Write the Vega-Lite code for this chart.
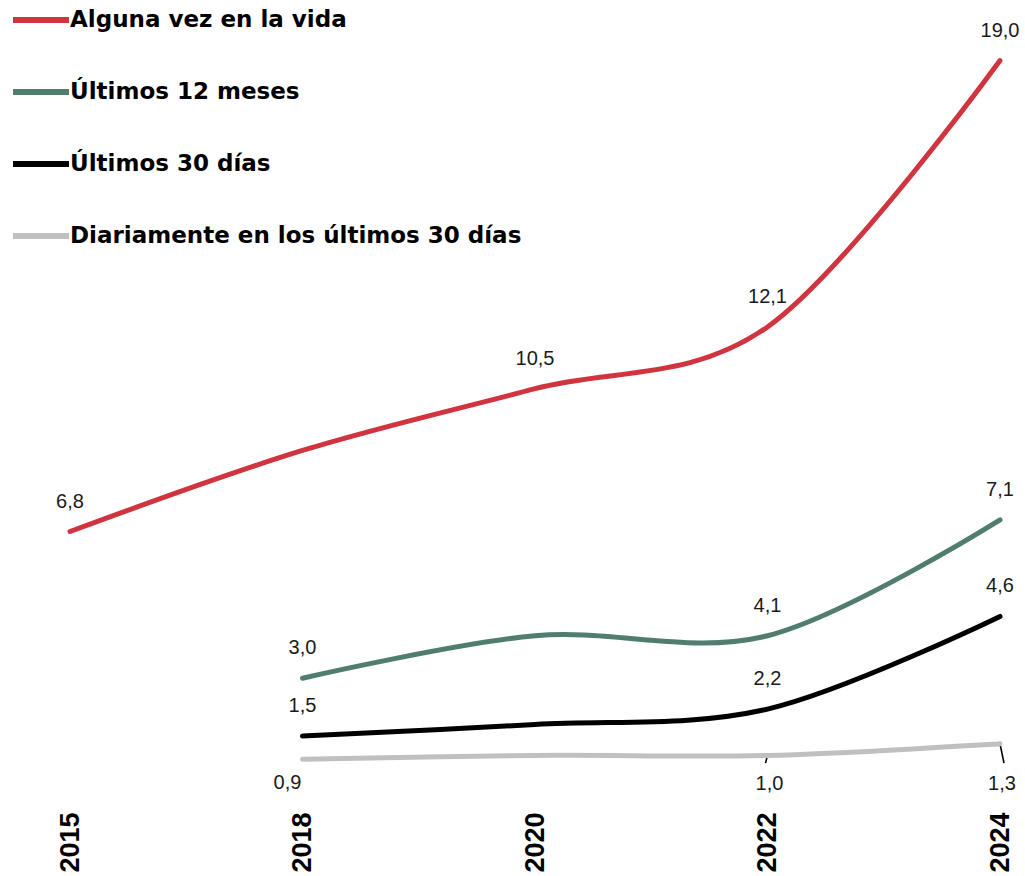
{
  "$schema": "https://vega.github.io/schema/vega-lite/v6.json",
  "width": 930,
  "height": 772,
  "autosize": {"type": "none"},
  "padding": {"left": 70, "top": 22, "right": 25, "bottom": 82},
  "background": "white",
  "config": {
    "view": {"stroke": null},
    "locale": {"number": {"decimal": ",", "thousands": ".", "grouping": [3], "currency": ["", " €"]}}
  },
  "data": {
    "values": [
      {"anio": "2015", "serie": "Alguna vez en la vida", "valor": 6.8},
      {"anio": "2018", "serie": "Alguna vez en la vida", "valor": 8.9},
      {"anio": "2020", "serie": "Alguna vez en la vida", "valor": 10.5},
      {"anio": "2022", "serie": "Alguna vez en la vida", "valor": 12.1},
      {"anio": "2024", "serie": "Alguna vez en la vida", "valor": 19.0},
      {"anio": "2018", "serie": "Últimos 12 meses", "valor": 3.0},
      {"anio": "2020", "serie": "Últimos 12 meses", "valor": 4.1},
      {"anio": "2022", "serie": "Últimos 12 meses", "valor": 4.1},
      {"anio": "2024", "serie": "Últimos 12 meses", "valor": 7.1},
      {"anio": "2018", "serie": "Últimos 30 días", "valor": 1.5},
      {"anio": "2020", "serie": "Últimos 30 días", "valor": 1.8},
      {"anio": "2022", "serie": "Últimos 30 días", "valor": 2.2},
      {"anio": "2024", "serie": "Últimos 30 días", "valor": 4.6},
      {"anio": "2018", "serie": "Diariamente en los últimos 30 días", "valor": 0.9},
      {"anio": "2020", "serie": "Diariamente en los últimos 30 días", "valor": 1.0},
      {"anio": "2022", "serie": "Diariamente en los últimos 30 días", "valor": 1.0},
      {"anio": "2024", "serie": "Diariamente en los últimos 30 días", "valor": 1.3}
    ]
  },
  "encoding": {
    "x": {
      "field": "anio",
      "type": "ordinal",
      "scale": {"type": "point", "padding": 0, "domain": ["2015", "2018", "2020", "2022", "2024"]},
      "axis": {
        "title": null,
        "domain": false,
        "ticks": false,
        "labelAngle": 270,
        "labelAlign": "right",
        "labelBaseline": "middle",
        "labelPadding": 18,
        "labelFont": "Liberation Sans",
        "labelFontWeight": "bold",
        "labelFontSize": 27,
        "labelColor": "#000000"
      }
    },
    "y": {
      "field": "valor",
      "type": "quantitative",
      "scale": {"domain": [0, 20], "nice": false, "zero": true},
      "axis": null
    }
  },
  "layer": [
    {
      "transform": [{"filter": "datum.serie === 'Diariamente en los últimos 30 días' && datum.anio === '2022'"}],
      "mark": {"type": "rule", "color": "#000000", "strokeWidth": 1.6, "x2Offset": -2},
      "encoding": {"y2": {"datum": 0.8}, "x2": {"field": "anio", "type": "ordinal"}}
    },
    {
      "transform": [{"filter": "datum.serie === 'Diariamente en los últimos 30 días' && datum.anio === '2024'"}],
      "mark": {"type": "rule", "color": "#000000", "strokeWidth": 1.6, "x2Offset": 4},
      "encoding": {"y2": {"datum": 0.8}, "x2": {"field": "anio", "type": "ordinal"}}
    },
    {
      "mark": {"type": "line", "interpolate": "cardinal", "tension": 0, "strokeWidth": 5, "strokeCap": "round"},
      "encoding": {
        "color": {
          "field": "serie",
          "type": "nominal",
          "scale": {
            "domain": ["Alguna vez en la vida", "Últimos 12 meses", "Últimos 30 días", "Diariamente en los últimos 30 días"],
            "range": ["#D0343F", "#517D71", "#000000", "#C0C0C0"]
          },
          "legend": {
            "title": null,
            "orient": "none",
            "legendX": -60,
            "legendY": -33,
            "padding": 0,
            "symbolType": "stroke",
            "symbolSize": 3136,
            "symbolStrokeWidth": 6,
            "labelFont": "DejaVu Sans",
            "labelFontWeight": "bold",
            "labelFontSize": 23,
            "labelColor": "#000000",
            "labelOffset": -2,
            "rowPadding": 29,
            "labelLimit": 600
          }
        },
        "order": {"field": "anio", "type": "ordinal"}
      }
    },
    {
      "transform": [
        {"filter": "datum.serie !== 'Diariamente en los últimos 30 días' && (datum.anio !== '2020' || datum.serie === 'Alguna vez en la vida') && !(datum.anio === '2018' && datum.serie === 'Alguna vez en la vida')"}
      ],
      "mark": {"type": "text", "dy": -30, "font": "Liberation Sans", "fontSize": 20, "color": "#1a1a1a", "align": "center", "baseline": "middle"},
      "encoding": {"text": {"field": "valor", "type": "quantitative", "format": ".1f"}}
    },
    {
      "transform": [{"filter": "datum.serie === 'Diariamente en los últimos 30 días' && (datum.anio === '2022' || datum.anio === '2024')"}],
      "mark": {"type": "text", "font": "Liberation Sans", "fontSize": 20, "color": "#1a1a1a", "align": "center", "baseline": "middle", "dx": 2},
      "encoding": {
        "y": {"datum": 0.25},
        "text": {"field": "valor", "type": "quantitative", "format": ".1f"}
      }
    },
    {
      "transform": [{"filter": "datum.serie === 'Diariamente en los últimos 30 días' && datum.anio === '2018'"}],
      "mark": {"type": "text", "dy": 24, "dx": -15, "font": "Liberation Sans", "fontSize": 20, "color": "#1a1a1a", "align": "center", "baseline": "middle"},
      "encoding": {"text": {"field": "valor", "type": "quantitative", "format": ".1f"}}
    }
  ]
}
